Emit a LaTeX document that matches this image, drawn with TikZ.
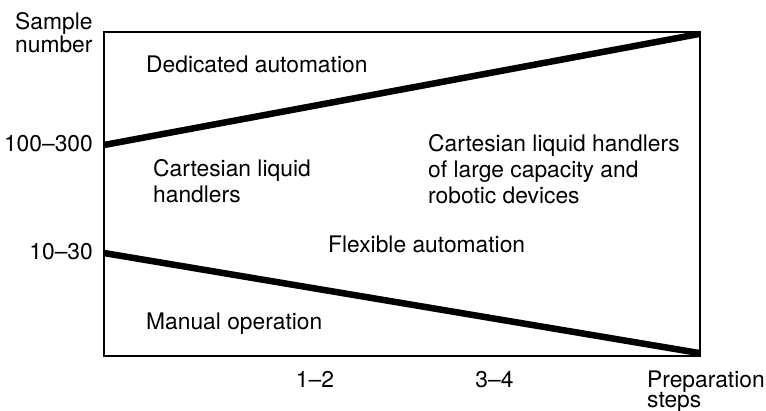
\documentclass[tikz,border=0pt]{standalone}
\usepackage{fontspec}
\setmainfont{TeX Gyre Heros}
\begin{document}
\begin{tikzpicture}[x=1pt,y=-1pt,
  lbl/.style={anchor=base west,inner sep=0pt,font=\fontsize{22.8}{26}\selectfont},
  num/.style={lbl},
  thin/.style={line width=2.4pt},
  thickline/.style={line width=6.5pt}]
\useasboundingbox (0,0) rectangle (766,411);
\coordinate (tl) at (104,32);
\coordinate (tr) at (700,32);
\coordinate (br) at (700,356);
\coordinate (bl) at (104,356);
\coordinate (u0) at (104,145);
\coordinate (l0) at (104,253);
\coordinate (u1) at (699,34);
\coordinate (l1) at (699,353);
\draw[thin] (tl) -- (tr) -- (br) -- (bl) -- cycle;
\draw[thickline] (u0) -- (u1);
\draw[thickline] (l0) -- (l1);
\node[lbl] (s1) at (15,29.5) {Sample};
\node[lbl] (s2) at (15,53) {number};
\node[num,anchor=base east] (y1) at (93,152) {100--300};
\node[num,anchor=base east] (y2) at (93,260) {10--30};
\node[num,anchor=base] (x1) at (315,388) {1--2};
\node[num,anchor=base] (x2) at (494.5,388) {3--4};
\node[lbl] (p1) at (647,388) {Preparation};
\node[lbl] (p2) at (647,407.5) {steps};
\node[lbl] (da) at (146,73) {Dedicated automation};
\node[lbl] (c1) at (153,177) {Cartesian liquid};
\node[lbl] (c2) at (153,203) {handlers};
\node[lbl] (r1) at (428,152) {Cartesian liquid handlers};
\node[lbl] (r2) at (428,178) {of large capacity and};
\node[lbl] (r3) at (428,204) {robotic devices};
\node[lbl] (fa) at (328,253) {Flexible automation};
\node[lbl] (mo) at (146,330) {Manual operation};
\end{tikzpicture}
\end{document}
